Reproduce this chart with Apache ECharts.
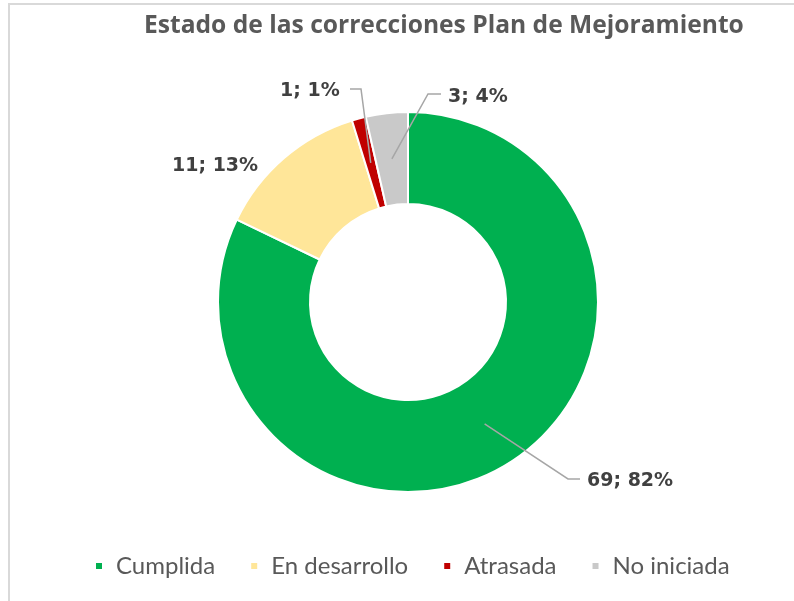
<!DOCTYPE html>
<html>
<head>
<meta charset="utf-8">
<script src="https://cdn.jsdelivr.net/npm/echarts@6/dist/echarts.min.js"></script>
<style>
  html, body {
    margin: 0;
    padding: 0;
    background: #fff;
  }
  .frame {
    position: absolute;
    left: 8px;
    top: 3px;
    width: 800px;
    height: 620px;
    border-top: 2px solid #d9d9d9;
    border-left: 2px solid #d9d9d9;
  }
  #chart {
    position: absolute;
    left: 0;
    top: 0;
    width: 794px;
    height: 601px;
  }
</style>
</head>
<body>
<div class="frame"></div>
<div id="chart"></div>
<script>
const titleText = 'Estado de las correcciones Plan de Mejoramiento'
const categories = ['Cumplida', 'En desarrollo', 'Atrasada', 'No iniciada']
const values = [69, 11, 1, 3]
const colors = ['#00B050', '#FFE699', '#C00000', '#C9C9C9']

// where each data label sits (left edge / middle), and its leader elbow
const labelSpots = [
  { x: 587, y: 481, elbow: [[568, 479], [580, 479]] },
  { x: 172, y: 166, elbow: null },
  { x: 280, y: 91, elbow: [[361, 89], [350, 89]] },
  { x: 448, y: 97, elbow: [[428, 94], [441, 94]] }
]

const center = [408, 302]
const innerR = 98
const outerR = 190

const chart = echarts.init(document.getElementById('chart'))

const total = values.reduce((a, b) => a + b, 0)

// point in the middle of the ring, at the middle angle of slice i
function ringMid(i) {
  let before = 0
  for (let k = 0; k < i; k++) before += values[k]
  const a = (before + values[i] / 2) / total * Math.PI * 2
  const r = (innerR + outerR) / 2
  return [center[0] + r * Math.sin(a), center[1] - r * Math.cos(a)]
}

// leader lines drawn like Excel: from inside the ring to the label
const leaders = labelSpots
  .map((spot, i) => spot.elbow ? {
    type: 'polyline',
    z: 100,
    shape: { points: [ringMid(i), spot.elbow[0], spot.elbow[1]] },
    style: { stroke: '#A6A6A6', lineWidth: 1.5, fill: null }
  } : null)
  .filter(Boolean)

chart.setOption({
  animation: false,
  title: {
    text: titleText,
    left: 139,
    top: 8,
    textStyle: {
      fontFamily: 'Open Sans',
      fontWeight: 'bold',
      fontSize: 24.6,
      color: '#595959'
    }
  },
  legend: {
    bottom: 18,
    left: 89,
    icon: 'rect',
    itemWidth: 8,
    itemHeight: 8,
    itemGap: 34,
    data: categories,
    textStyle: {
      fontFamily: 'Lato',
      fontSize: 24,
      color: '#595959',
      padding: [0, 0, 0, 8]
    }
  },
  graphic: leaders,
  series: [
    {
      type: 'pie',
      center: center,
      radius: [innerR, outerR],
      startAngle: 90,
      clockwise: true,
      itemStyle: {
        borderColor: '#fff',
        borderWidth: 2
      },
      label: {
        show: true,
        position: 'outside',
        fontFamily: 'DejaVu Sans',
        fontWeight: 'bold',
        fontSize: 19,
        color: '#404040',
        formatter: p => p.value + '; ' + Math.round(p.value / total * 100) + '%'
      },
      labelLine: {
        show: false
      },
      labelLayout: params => {
        const spot = labelSpots[params.dataIndex]
        return {
          x: spot.x,
          y: spot.y,
          align: 'left',
          verticalAlign: 'middle'
        }
      },
      data: categories.map((name, i) => ({
        name: name,
        value: values[i],
        itemStyle: { color: colors[i] }
      }))
    }
  ]
})

window.addEventListener('resize', () => chart.resize())
</script>
</body>
</html>
